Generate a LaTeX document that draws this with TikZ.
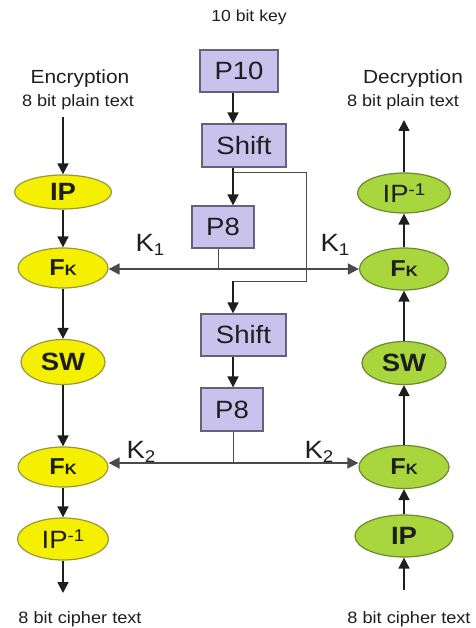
\documentclass[tikz,border=0pt]{standalone}
\usepackage{fontspec}
\setmainfont{Liberation Sans}[FakeStretch=1.1]
\usetikzlibrary{shapes.geometric,arrows.meta}

\definecolor{encfill}{HTML}{F4F000}
\definecolor{encline}{HTML}{9A9838}
\definecolor{decfill}{HTML}{A8D63C}
\definecolor{decline}{HTML}{6C8830}
\definecolor{boxfill}{HTML}{C8C2EC}
\definecolor{boxline}{HTML}{62627A}
\definecolor{ink}{HTML}{1E1E1E}
\definecolor{wire}{HTML}{4A4A4A}

\newcommand{\fk}{{\bfseries\fontsize{23}{23}\selectfont F\fontsize{15}{15}\selectfont K}}
\newcommand{\ipinv}{{\fontsize{25}{25}\selectfont IP\raisebox{7pt}{\fontsize{17}{17}\selectfont -1}}}
\newcommand{\keylab}[1]{{\fontsize{25}{25}\selectfont K\raisebox{-4pt}{\fontsize{17}{17}\selectfont #1}}}

\begin{document}
\begin{tikzpicture}[x=1pt,y=-1pt,
  every node/.style={text=ink, inner sep=0pt},
  keybox/.style={draw=boxline, line width=1.2pt, fill=boxfill,
    font=\fontsize{25}{25}\selectfont},
  stage/.style={ellipse, line width=1.2pt, font=\bfseries\fontsize{25}{25}\selectfont},
  encstage/.style={stage, draw=encline, fill=encfill},
  decstage/.style={stage, draw=decline, fill=decfill},
  caption/.style={anchor=base, font=\fontsize{16.5}{16.5}\selectfont},
  title/.style={anchor=base, font=\fontsize{19}{19}\selectfont},
  flow/.style={draw=ink, line width=1.7pt, -{Triangle[length=11pt,width=11pt]}},
  both/.style={draw=wire, line width=1.6pt,
    {Triangle[length=11pt,width=11pt]}-{Triangle[length=11pt,width=11pt]}},
  tap/.style={draw=wire, line width=1pt},
]
\useasboundingbox (0,0) rectangle (475,628);

% key schedule column
\node[anchor=base, font=\fontsize{16}{16}\selectfont] (keyin) at (249,22) {10 bit key};
\node[keybox, minimum width=78pt, minimum height=42pt] (p10) at (239,71) {P10};
\node[keybox, minimum width=84pt, minimum height=43pt] (sh1) at (244,145.5) {Shift};
\node[keybox, minimum width=62pt, minimum height=42pt] (p8a) at (223,227) {P8};
\node[keybox, minimum width=85pt, minimum height=42pt] (sh2) at (243.5,335) {Shift};
\node[keybox, minimum width=62pt, minimum height=43pt] (p8b) at (232,409.5) {P8};
\coordinate (kx) at (233,0);
\coordinate (tapx) at (218,0);

% encryption column
\node[title] (enc) at (80,84) {Encryption};
\node[caption] (encin) at (78,107) {8 bit plain text};
\node[encstage, minimum width=97pt, minimum height=34pt] (eip) at (63,192) {IP};
\node[encstage, minimum width=90pt, minimum height=40pt] (efk1) at (63,268) {\fk};
\node[encstage, minimum width=84pt, minimum height=45pt] (esw) at (63,362) {SW};
\node[encstage, minimum width=90pt, minimum height=40pt] (efk2) at (63,467) {\fk};
\node[encstage, minimum width=91pt, minimum height=42pt, font=\mdseries] (eipi) at (63,539) {\ipinv};
\node[caption] (encout) at (80,623) {8 bit cipher text};
\coordinate (eout) at (63,593);
\coordinate (etop) at (63,117);

% decryption column
\node[title] (dec) at (413,84) {Decryption};
\node[caption] (decout) at (403,107) {8 bit plain text};
\node[decstage, minimum width=93pt, minimum height=40pt, font=\mdseries] (dipi) at (404,193) {\ipinv};
\node[decstage, minimum width=89pt, minimum height=42pt] (dfk1) at (404,269) {\fk};
\node[decstage, minimum width=84pt, minimum height=43pt] (dsw) at (404,363) {SW};
\node[decstage, minimum width=90pt, minimum height=43pt] (dfk2) at (404,467) {\fk};
\node[decstage, minimum width=98pt, minimum height=42pt] (dip) at (404,536) {IP};
\node[caption] (decin) at (409,623) {8 bit cipher text};
\coordinate (dtop) at (404,120);
\coordinate (din) at (404,590);

% sub-key labels
\node[anchor=base] (k1l) at (150,251) {\keylab{1}};
\node[anchor=base] (k1r) at (335,251) {\keylab{1}};
\node[anchor=base] (k2l) at (141,458) {\keylab{2}};
\node[anchor=base] (k2r) at (319,458) {\keylab{2}};

% key schedule wiring
\draw[flow] (p10.south -| kx) -- (sh1.north -| kx);
\draw[flow] (sh1.south -| kx) -- (p8a.north -| kx);
\coordinate (br0) at (233,173);
\coordinate (br1) at (306,173);
\coordinate (br2) at (306,281);
\coordinate (br3) at (233,281);
\draw[tap] (br0) -- (br1) -- (br2) -- (br3);
\draw[flow] (br3) -- (sh2.north -| kx);
\draw[flow] (sh2.south -| kx) -- (p8b.north -| kx);

% sub-key K1 distribution
\coordinate (k1j) at (218,269);
\draw[tap] (p8a.south -| tapx) -- (k1j);
\draw[both] (efk1.east |- k1j) -- (dfk1.west |- k1j);

% sub-key K2 distribution
\coordinate (k2j) at (233,463);
\draw[tap] (p8b.south -| kx) -- (k2j);
\draw[both] (efk2.east |- k2j) -- (dfk2.west |- k2j);

% encryption data path
\draw[flow] (etop) -- (eip);
\draw[flow] (eip) -- (efk1);
\draw[flow] (efk1) -- (esw);
\draw[flow] (esw) -- (efk2);
\draw[flow] (efk2) -- (eipi);
\draw[flow] (eipi) -- (eout);

% decryption data path
\draw[flow] (din) -- (dip);
\draw[flow] (dip) -- (dfk2);
\draw[flow] (dfk2) -- (dsw);
\draw[flow] (dsw) -- (dfk1);
\draw[flow] (dfk1) -- (dipi);
\draw[flow] (dipi) -- (dtop);
\end{tikzpicture}
\end{document}
